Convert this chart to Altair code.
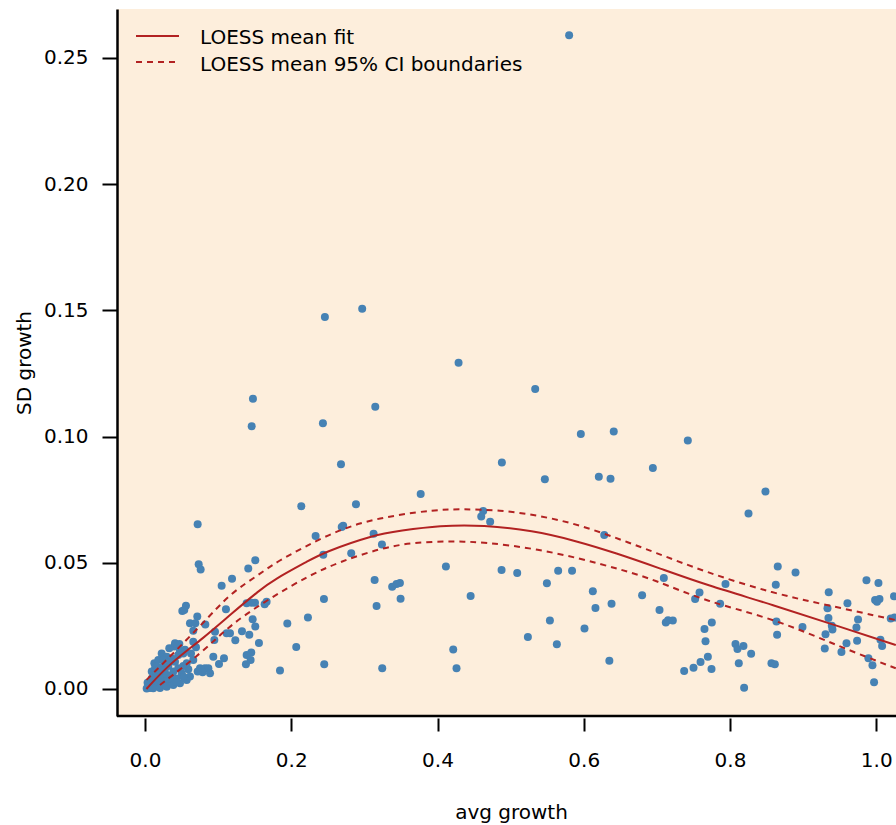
import altair as alt
import pandas as pd

# ---------------- data ----------------
avg_growth = [
    0.580, 0.297, 0.246, 0.1476, 0.1459, 0.2433, 0.3149, 0.268, 0.377, 0.2137,
    0.2885, 0.072, 0.271, 0.269, 0.2333, 0.3126, 0.324, 0.2438, 0.282, 0.0734,
    0.0761, 0.1508, 0.1412, 0.119, 0.314,
    0.4288, 0.5336, 0.596, 0.641, 0.488, 0.5468, 0.6206, 0.6366, 0.6945, 0.4625,
    0.4598, 0.472, 0.628, 0.4115, 0.4876, 0.509, 0.565, 0.584, 0.5496, 0.3486,
    0.3495, 0.4453, 0.6124, 0.616, 0.638, 0.6798, 0.7036, 0.5537, 0.601, 0.5236,
    0.5632, 0.4215, 0.426, 0.635,
    0.7423, 0.8485, 0.8253, 0.8653, 0.8896, 0.8626, 0.7095, 0.7938, 0.7583, 0.7523,
    0.7865, 0.7122, 0.7218, 0.7153, 0.7751, 0.7651, 0.7665, 0.7697, 0.7597, 0.7501,
    0.7373, 0.7747, 0.8075, 0.8102, 0.8184, 0.8289, 0.812, 0.8193, 0.8635, 0.8644,
    0.8567, 0.8613, 0.8991, 0.935, 0.9333, 0.9346, 0.9392, 0.9401, 0.9306, 0.9296,
    0.9524, 0.9606, 0.9593, 0.9751, 0.9729, 0.9738, 0.9866, 1.003, 0.9984, 1.0044,
    1.001, 1.0243, 1.0198, 1.025, 1.0057, 1.008, 0.9893, 0.9948, 0.997,
    0.338, 0.344, 0.3167, 0.3244, 0.2447, 0.2228, 0.1946, 0.2068, 0.2451, 0.1846,
    0.139, 0.1504, 0.1458, 0.1636, 0.1663, 0.1472, 0.1508, 0.1326, 0.1426, 0.1235,
    0.1558, 0.139, 0.1453, 0.1162,
    0.1048, 0.056, 0.051, 0.0537, 0.0715, 0.0615, 0.0688, 0.066, 0.0825, 0.1107,
    0.1116, 0.0957, 0.0948, 0.066, 0.0697, 0.0934, 0.108, 0.1012, 0.138, 0.1444,
    0.0752, 0.082, 0.0866, 0.0788, 0.072, 0.0889, 0.066, 0.0592, 0.0629,
    0.04, 0.0469, 0.0332, 0.0228, 0.0297, 0.0365, 0.0128, 0.0182, 0.0242, 0.0092,
    0.016, 0.0228, 0.0297, 0.0387, 0.0455, 0.0524, 0.057, 0.0502, 0.0433, 0.0342,
    0.0273, 0.0182, 0.0113, 0.0045, 0.0023, 0.0068, 0.0113, 0.0205, 0.0297, 0.0387,
    0.0478, 0.057, 0.0615, 0.0092, 0.0137, 0.0205, 0.0319, 0.041, 0.0455, 0.0524,
    0.025, 0.0342, 0.041, 0.0478, 0.0547, 0.016, 0.0035, 0.015, 0.027, 0.0365,
    0.0435, 0.053,
]
sd_growth = [
    0.259, 0.1506, 0.1474, 0.1150, 0.1041, 0.1053, 0.1118, 0.0890, 0.0773, 0.0724,
    0.0732, 0.0653, 0.0647, 0.0642, 0.0606, 0.0615, 0.0572, 0.0532, 0.0538, 0.0494,
    0.0473, 0.0510, 0.0477, 0.0437, 0.0432,
    0.1293, 0.1189, 0.1010, 0.1020, 0.0897, 0.0831, 0.0841, 0.0833, 0.0876, 0.0705,
    0.0683, 0.0663, 0.0610, 0.0485, 0.0471, 0.0460, 0.0468, 0.0468, 0.0419, 0.0420,
    0.0358, 0.0368, 0.0387, 0.0321, 0.0338, 0.0371, 0.0313, 0.0271, 0.0240, 0.0206,
    0.0177, 0.0156, 0.0082, 0.0112,
    0.0984, 0.0782, 0.0695, 0.0485, 0.0462, 0.0413, 0.0440, 0.0416, 0.0382, 0.0357,
    0.0338, 0.0263, 0.0271, 0.0272, 0.0263, 0.0238, 0.0189, 0.0128, 0.0107, 0.0084,
    0.0071, 0.0079, 0.0178, 0.0158, 0.0170, 0.0140, 0.0102, 0.0005, 0.0267, 0.0215,
    0.0102, 0.0098, 0.0246, 0.0383, 0.0320, 0.0281, 0.0251, 0.0236, 0.0217, 0.0160,
    0.0147, 0.0340, 0.0181, 0.0275, 0.0244, 0.0191, 0.0431, 0.0420, 0.0353, 0.0357,
    0.0346, 0.0367, 0.0279, 0.0283, 0.0195, 0.0170, 0.0122, 0.0094, 0.0027,
    0.0405, 0.0416, 0.0329, 0.0082, 0.0357, 0.0283, 0.0259, 0.0166, 0.0098, 0.0073,
    0.0340, 0.0342, 0.0342, 0.0336, 0.0346, 0.0276, 0.0248, 0.0229, 0.0215, 0.0193,
    0.0182, 0.0135, 0.0145, 0.0221,
    0.0409, 0.0330, 0.0309, 0.0313, 0.0287, 0.0260, 0.0260, 0.0231, 0.0256, 0.0316,
    0.0221, 0.0227, 0.0194, 0.0187, 0.0165, 0.0128, 0.0122, 0.0099, 0.0098, 0.0115,
    0.0082, 0.0082, 0.0082, 0.0066, 0.0069, 0.0062, 0.0115, 0.0078, 0.0141,
    0.0168, 0.0178, 0.0161, 0.0141, 0.0128, 0.0122, 0.0102, 0.0115, 0.0088, 0.0069,
    0.0062, 0.0049, 0.0055, 0.0069, 0.0082, 0.0091, 0.0102, 0.0062, 0.0042, 0.0036,
    0.0029, 0.0025, 0.0020, 0.0012, 0.0002, 0.0004, 0.0003, 0.0004, 0.0009, 0.0016,
    0.0023, 0.0036, 0.0049, 0.0042, 0.0082, 0.0075, 0.0091, 0.0108, 0.0135, 0.0141,
    0.0115, 0.0108, 0.0181, 0.0152, 0.0155, 0.0088, 0.0025, 0.0045, 0.0072, 0.0052,
    0.0028, 0.0048,
]

# LOESS mean fit
fit_x = [0.002, 0.034, 0.080, 0.120, 0.157, 0.1755, 0.2256, 0.2438, 0.312, 0.349,
         0.403, 0.4625, 0.531, 0.5855, 0.6448, 0.704, 0.7676, 0.859, 0.950, 1.0267]
fit_y = [0.000, 0.0102, 0.0201, 0.0303, 0.0392, 0.0432, 0.0511, 0.0540, 0.0610, 0.0627,
         0.0648, 0.0650, 0.0627, 0.0590, 0.0538, 0.0478, 0.0412, 0.0333, 0.0247, 0.0174]

# 95% CI boundaries
upper_x = [0.002, 0.0797, 0.1162, 0.157, 0.1755, 0.198, 0.2438, 0.294, 0.344, 0.394,
           0.4306, 0.4853, 0.540, 0.5947, 0.6494, 0.6949, 0.7676, 0.859, 0.9319, 1.0267]
upper_y = [0.0036, 0.0260, 0.0379, 0.0455, 0.0495, 0.0531, 0.0603, 0.0660, 0.0689, 0.0709,
           0.0713, 0.0709, 0.0687, 0.0650, 0.0593, 0.0544, 0.0462, 0.0379, 0.0333, 0.0273]
lower_x = [0.0205, 0.0797, 0.1162, 0.171, 0.2256, 0.2666, 0.3213, 0.3668, 0.4215, 0.4671,
           0.5309, 0.5947, 0.6494, 0.6949, 0.7676, 0.859, 0.950, 1.0267]
lower_y = [0.0016, 0.0148, 0.0254, 0.0360, 0.0452, 0.0504, 0.0557, 0.0581, 0.0586, 0.0581,
           0.0557, 0.0518, 0.0474, 0.0435, 0.0346, 0.0280, 0.0168, 0.0082]

x_ticks = [0.0, 0.2, 0.4, 0.6, 0.8, 1.0]
y_ticks = [0.00, 0.05, 0.10, 0.15, 0.20, 0.25]
legend_labels = ["LOESS mean fit", "LOESS mean 95% CI boundaries"]

# ---------------- chart ----------------
RED = "#B22222"
BLUE = "#4682B4"
FONT = "DejaVu Sans"
W, H = 779, 707
XT, YT = "avg growth", "SD growth"

xscale = alt.Scale(domain=[-0.0383, 1.027], nice=False, zero=False)
yscale = alt.Scale(domain=[-0.0107, 0.2694], nice=False, zero=False)

points = pd.DataFrame({"avg": avg_growth, "sd": sd_growth})
fit = pd.DataFrame({"x": fit_x, "y": fit_y})
ci = pd.concat([
    pd.DataFrame({"x": upper_x, "y": upper_y, "b": "upper"}),
    pd.DataFrame({"x": lower_x, "y": lower_y, "b": "lower"}),
])

x_axis = alt.Axis(
    values=x_ticks, format=".1f", grid=False,
    domain=False, offset=2, ticks=True, tickSize=13, tickWidth=2, tickColor="black",
    labelFont=FONT, labelFontSize=20, labelColor="black", labelPadding=19,
    labelFlush=False, labelOverlap=False,
    titleFont=FONT, titleFontSize=20, titleFontWeight="normal", titleColor="black",
    titleX=394, titleY=100, titleBaseline="alphabetic", titleAlign="center",
)
y_axis = alt.Axis(
    values=y_ticks, format=".2f", grid=False,
    domain=True, domainColor="black", domainWidth=2.5,
    ticks=True, tickSize=15, tickWidth=2, tickColor="black",
    labelFont=FONT, labelFontSize=20, labelColor="black", labelPadding=14,
    labelFlush=False, labelOverlap=False,
    titleFont=FONT, titleFontSize=20, titleFontWeight="normal", titleColor="black",
    titleX=-87, titleY=353.5, titleAngle=270, titleBaseline="alphabetic",
    titleAlign="center",
)

pts = alt.Chart(points).mark_circle(size=64, color=BLUE, opacity=1, clip=True).encode(
    x=alt.X("avg:Q", scale=xscale, axis=x_axis, title=XT),
    y=alt.Y("sd:Q", scale=yscale, axis=y_axis, title=YT),
)

fit_line = alt.Chart(fit).mark_line(
    color=RED, strokeWidth=2, interpolate="basis", clip=True
).encode(
    x=alt.X("x:Q", scale=xscale, title=XT),
    y=alt.Y("y:Q", scale=yscale, title=YT),
)

ci_lines = alt.Chart(ci).mark_line(
    color=RED, strokeWidth=2, strokeDash=[6, 5], interpolate="basis", clip=True
).encode(
    x=alt.X("x:Q", scale=xscale, title=XT),
    y=alt.Y("y:Q", scale=yscale, title=YT),
    detail="b:N",
)

one = pd.DataFrame({"k": [0]})
bottom_line = alt.Chart(one).mark_rule(color="black", strokeWidth=2.5).encode(
    x=alt.value(0), x2=alt.value(W), y=alt.value(H)
)

leg_solid = alt.Chart(one).mark_rule(color=RED, strokeWidth=2).encode(
    x=alt.value(19), x2=alt.value(62), y=alt.value(27)
)
leg_dash = alt.Chart(one).mark_rule(color=RED, strokeWidth=2, strokeDash=[6, 5]).encode(
    x=alt.value(19), x2=alt.value(62), y=alt.value(53)
)
leg_t1 = alt.Chart(pd.DataFrame({"t": [legend_labels[0]]})).mark_text(
    font=FONT, fontSize=20, color="black", align="left", baseline="alphabetic"
).encode(x=alt.value(83), y=alt.value(35), text="t:N")
leg_t2 = alt.Chart(pd.DataFrame({"t": [legend_labels[1]]})).mark_text(
    font=FONT, fontSize=20, color="black", align="left", baseline="alphabetic"
).encode(x=alt.value(83), y=alt.value(62), text="t:N")

chart = alt.layer(
    pts, fit_line, ci_lines, bottom_line, leg_solid, leg_dash, leg_t1, leg_t2
).properties(
    width=W, height=H,
    padding={"left": 117, "top": 9, "right": 0, "bottom": 109},
    autosize=alt.AutoSizeParams(type="none"),
    background="white",
).configure_view(
    fill="#FDEEDC", stroke="transparent", strokeWidth=0
)

chart.save("out.html", embed_options={"renderer": "svg", "actions": False})
